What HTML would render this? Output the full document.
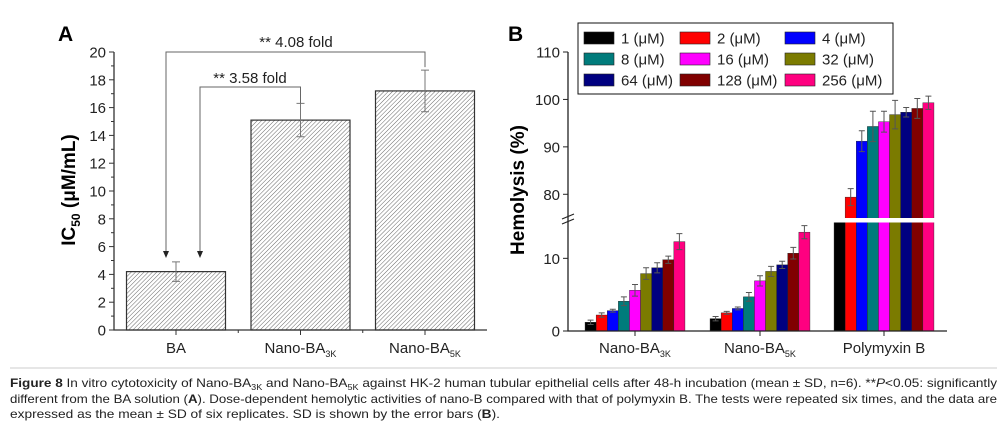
<!DOCTYPE html>
<html><head><meta charset="utf-8"><style>
html,body{margin:0;padding:0;background:#fff;}
svg{display:block;font-family:"Liberation Sans",sans-serif;}
</style></head><body>
<svg id="fig" width="999" height="428" viewBox="0 0 999 428" xmlns="http://www.w3.org/2000/svg">
<defs>
<pattern id="hatch" patternUnits="userSpaceOnUse" width="3" height="3" patternTransform="rotate(45)">
<rect width="3" height="3" fill="#fff"/><line x1="0" y1="0" x2="0" y2="3" stroke="#555" stroke-width="0.9"/>
</pattern>
</defs>
<g id="panelA"></g>
<g id="panelB"></g>
<line x1="10" y1="368" x2="997" y2="368" stroke="#ccc" stroke-width="1"/>
<g font-size="12" fill="#222" style="font-family:'Liberation Sans',sans-serif">
<text x="10" y="387" textLength="987" lengthAdjust="spacingAndGlyphs"><tspan font-weight="bold">Figure 8</tspan> In vitro cytotoxicity of Nano-BA<tspan font-size="8" dy="3">3K</tspan><tspan dy="-3"> and Nano-BA</tspan><tspan font-size="8" dy="3">5K</tspan><tspan dy="-3"> against HK-2 human tubular epithelial cells after 48-h incubation (mean ± SD, n=6). **</tspan><tspan font-style="italic">P</tspan>&lt;0.05: significantly</text>
<text x="10" y="403" textLength="987" lengthAdjust="spacingAndGlyphs">different from the BA solution (<tspan font-weight="bold">A</tspan>). Dose-dependent hemolytic activities of nano-B compared with that of polymyxin B. The tests were repeated six times, and the data are</text>
<text x="10" y="418" textLength="490" lengthAdjust="spacingAndGlyphs">expressed as the mean ± SD of six replicates. SD is shown by the error bars (<tspan font-weight="bold">B</tspan>).</text>
</g>
</svg>
<script>
// ---- Panel A data ----
const aCategories = ["BA", "Nano-BA", "Nano-BA"];
const aSubs = ["", "3K", "5K"];
const aValues = [4.2, 15.1, 17.2];
const aErrors = [0.7, 1.2, 1.5];
const aTicks = [0, 2, 4, 6, 8, 10, 12, 14, 16, 18, 20];

// ---- Panel B data ----
const bGroups = ["Nano-BA", "Nano-BA", "Polymyxin B"];
const bGroupSubs = ["3K", "5K", ""];
const bSeries = ["1 (μM)", "2 (μM)", "4 (μM)", "8 (μM)", "16 (μM)", "32 (μM)", "64 (μM)", "128 (μM)", "256 (μM)"];
const bColors = ["#000000", "#ff0000", "#0000ff", "#007b7b", "#ff00ff", "#7b7b00", "#000080", "#800000", "#ff0080"];
const bNano3K = [1.2, 2.2, 2.8, 4.1, 5.6, 7.9, 8.7, 9.8, 12.3];
const bNano3KErr = [0.3, 0.3, 0.2, 0.6, 0.8, 0.8, 0.7, 0.5, 1.1];
const bNano5K = [1.7, 2.5, 3.1, 4.7, 6.9, 8.2, 9.1, 10.7, 13.6];
const bNano5KErr = [0.3, 0.2, 0.2, 0.6, 0.7, 0.7, 0.5, 0.8, 0.9];
const bPoly = [40, 79.4, 91.2, 94.3, 95.3, 96.8, 97.3, 98.1, 99.3];
const bPolyErr = [0, 1.8, 2.2, 3.2, 2.2, 3.0, 1.0, 2.1, 1.4];
const bLowTicks = [0, 10];
const bHighTicks = [80, 90, 100, 110];

const NS = "http://www.w3.org/2000/svg";
function mk(tag, attrs, parent, text) {
  const e = document.createElementNS(NS, tag);
  for (const k in attrs) e.setAttribute(k, attrs[k]);
  if (text !== undefined) e.textContent = text;
  parent.appendChild(e);
  return e;
}

// ===== Panel A =====
(function () {
  const g = document.getElementById("panelA");
  const x0 = 114, x1 = 487, yBase = 330, yTop = 52;
  const ya = v => yBase - (v / 20) * (yBase - yTop);
  const bw = 99, step = 124.5, c0 = 176;
  const xc = i => c0 + i * step;

  let t = mk("text", {x: 58, y: 41, "font-size": 21, "font-weight": "bold"}, g, "A");
  
  

  aValues.forEach((v, i) => {
    const r = mk("rect", {x: xc(i) - bw / 2, y: ya(v), width: bw, height: yBase - ya(v), fill: "url(#hatch)", stroke: "#333", "stroke-width": 1.2}, g);
    
    
    const e = aErrors[i];
    const eb = mk("path", {d: `M${xc(i)},${ya(v + e)}V${ya(v - e)}M${xc(i) - 4},${ya(v + e)}h8M${xc(i) - 4},${ya(v - e)}h8`, stroke: "#777", fill: "none", "stroke-width": 1}, g);
    
    
  });

  const ax = mk("path", {d: `M${x0},${yTop}V${yBase}H${x1}`, stroke: "#333", fill: "none", "stroke-width": 1.3}, g);
  
  
  aTicks.forEach(v => {
    mk("line", {x1: x0 - 5, x2: x0, y1: ya(v), y2: ya(v), stroke: "#333"}, g);
    if (v < 20) mk("line", {x1: x0 - 3, x2: x0, y1: ya(v + 1), y2: ya(v + 1), stroke: "#333"}, g);
    const tl = mk("text", {x: x0 - 8, y: ya(v) + 5.5, "font-size": 15, "text-anchor": "end", fill: "#222"}, g, v);
    
    
  });
  aCategories.forEach((c, i) => {
    mk("line", {x1: xc(i), x2: xc(i), y1: yBase, y2: yBase + 5, stroke: "#333"}, g);
    if (i < 2) mk("line", {x1: xc(i) + step / 2, x2: xc(i) + step / 2, y1: yBase, y2: yBase + 3, stroke: "#333"}, g);
    const tl = mk("text", {x: xc(i), y: 353, "font-size": 15, "text-anchor": "middle", fill: "#222"}, g);
    
    
    mk("tspan", {}, tl, c);
    if (aSubs[i]) mk("tspan", {"font-size": 9, dy: 4}, tl, aSubs[i]);
  });
  const yt = mk("text", {transform: "translate(75,190) rotate(-90)", "font-size": 19, "font-weight": "bold", "text-anchor": "middle"}, g);
  
  
  mk("tspan", {}, yt, "IC");
  mk("tspan", {"font-size": 12, dy: 5}, yt, "50");
  mk("tspan", {dy: -5}, yt, " (μM/mL)");

  // brackets
  const arrowY = 258;
  const b1 = mk("path", {d: `M${xc(2)},${ya(aValues[2] + aErrors[2]) - 3}V${yTop}H166V${arrowY - 6}`, stroke: "#666", fill: "none"}, g);
  
  
  mk("path", {d: `M163,${arrowY - 7}L169,${arrowY - 7}L166,${arrowY}Z`, fill: "#222"}, g);
  const b2 = mk("path", {d: `M${xc(1)},${ya(aValues[1] + aErrors[1])}V87H200V${arrowY - 6}`, stroke: "#666", fill: "none"}, g);
  
  
  mk("path", {d: `M197,${arrowY - 7}L203,${arrowY - 7}L200,${arrowY}Z`, fill: "#222"}, g);
  let s = mk("text", {x: 296, y: 47, "font-size": 15, "text-anchor": "middle", fill: "#222"}, g, "** 4.08 fold");
  
  
  s = mk("text", {x: 250, y: 83, "font-size": 15, "text-anchor": "middle", fill: "#222"}, g, "** 3.58 fold");
  
  
})();

// ===== Panel B =====
(function () {
  const g = document.getElementById("panelB");
  const x0 = 568, x1 = 947, yBase = 331, lowMax = 15, lowTopY = 222, highMin = 75, highMinY = 218, highMax = 110, highTopY = 52;
  const yLow = v => yBase - (Math.min(v, lowMax) / lowMax) * (yBase - lowTopY);
  const yHigh = v => highMinY - ((v - highMin) / (highMax - highMin)) * (highMinY - highTopY);
  const yv = v => v <= lowMax ? yLow(v) : (v >= highMin ? yHigh(v) : lowTopY);
  const gc = [635, 760, 884], bw = 11.1;
  const groupsData = [[bNano3K, bNano3KErr], [bNano5K, bNano5KErr], [bPoly, bPolyErr]];

  let t = mk("text", {x: 508, y: 41, "font-size": 21, "font-weight": "bold"}, g, "B");
  
  

  groupsData.forEach((gd, gi) => {
    const vals = gd[0], errs = gd[1];
    vals.forEach((v, i) => {
      const x = gc[gi] - (bSeries.length * bw) / 2 + i * bw;
      const r = mk("rect", {x: x, y: yv(v), width: bw, height: yBase - yv(v), fill: bColors[i], stroke: "#222", "stroke-width": 0.4}, g);
      
      
      if (errs[i] > 0 && (v <= lowMax || v >= highMin)) {
        const cx = x + bw / 2, e = errs[i];
        const eb = mk("path", {d: `M${cx},${yv(v + e)}V${yv(v - e)}M${cx - 3},${yv(v + e)}h6M${cx - 3},${yv(v - e)}h6`, stroke: "#555", fill: "none", "stroke-width": 1}, g);
        
        
      }
    });
  });
  const gap = mk("rect", {x: gc[2] - 52, y: 218, width: 104, height: 4.5, fill: "#fff"}, g);
  
  

  const ax = mk("path", {d: `M${x0},${highTopY}V${yBase}H${x1}`, stroke: "#222", fill: "none", "stroke-width": 1.3}, g);
  
  
  const br = mk("path", {d: `M${x0 - 6},${219}L${x0 + 6},${214}M${x0 - 6},${224}L${x0 + 6},${219}`, stroke: "#222", "stroke-width": 1.2, fill: "none"}, g);
  
  
  bLowTicks.forEach(v => {
    mk("line", {x1: x0 - 5, x2: x0, y1: yLow(v), y2: yLow(v), stroke: "#222"}, g);
    const tl = mk("text", {x: x0 - 8, y: yLow(v) + 5.5, "font-size": 15, "text-anchor": "end", fill: "#222"}, g, v);
    
    
  });
  bHighTicks.forEach(v => {
    mk("line", {x1: x0 - 5, x2: x0, y1: yHigh(v), y2: yHigh(v), stroke: "#222"}, g);
    const tl = mk("text", {x: x0 - 8, y: yHigh(v) + 5.5, "font-size": 15, "text-anchor": "end", fill: "#222"}, g, v);
    
    
  });
  bGroups.forEach((c, i) => {
    mk("line", {x1: gc[i], x2: gc[i], y1: yBase, y2: yBase + 5, stroke: "#222"}, g);
    const tl = mk("text", {x: gc[i], y: 353, "font-size": 15, "text-anchor": "middle", fill: "#222"}, g);
    
    
    mk("tspan", {}, tl, c);
    if (bGroupSubs[i]) mk("tspan", {"font-size": 9, dy: 4}, tl, bGroupSubs[i]);
  });
  const yt = mk("text", {transform: "translate(524,190) rotate(-90)", "font-size": 19, "font-weight": "bold", "text-anchor": "middle"}, g, "Hemolysis (%)");
  
  

  const lg = mk("g", {}, g);
  
  
  mk("rect", {x: 578, y: 23, width: 315, height: 71, fill: "#fff", stroke: "#111", "stroke-width": 1}, lg);
  const colX = [584, 680, 785], rowY = [38, 59, 80];
  bSeries.forEach((s, i) => {
    const cx = colX[i % 3], cy = rowY[Math.floor(i / 3)];
    const e = mk("g", {}, lg);
    
    
    mk("rect", {x: cx, y: cy - 6, width: 30, height: 12, fill: bColors[i], stroke: "#222", "stroke-width": 0.6}, e);
    mk("text", {x: cx + 37, y: cy + 5.5, "font-size": 15, fill: "#222"}, e, s);
  });
})();
</script>
</body></html>
